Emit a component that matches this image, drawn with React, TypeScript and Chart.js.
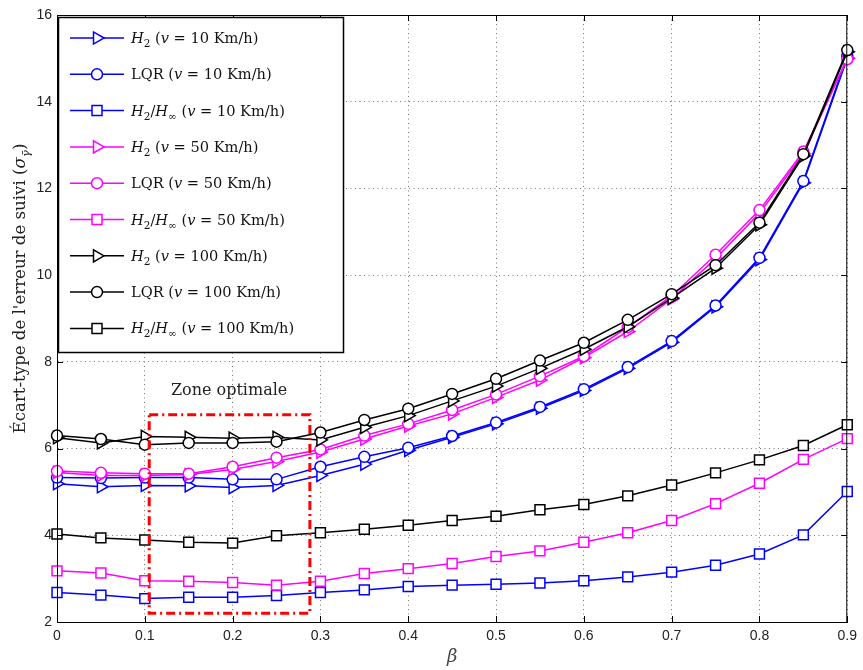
import { useEffect, useRef } from "react";
import { Chart, registerables } from "chart.js";
Chart.register(...registerables);

// ---------- data ----------
const beta = [0, 0.05, 0.1, 0.15, 0.2, 0.25, 0.3, 0.35, 0.4, 0.45, 0.5, 0.55, 0.6, 0.65, 0.7, 0.75, 0.8, 0.85, 0.9];

const h2_10 = [5.19, 5.12, 5.15, 5.14, 5.10, 5.15, 5.38, 5.64, 5.96, 6.26, 6.57, 6.93, 7.34, 7.85, 8.45, 9.27, 10.36, 12.13, 15.0];
const lqr_10 = [5.33, 5.32, 5.33, 5.33, 5.29, 5.29, 5.58, 5.81, 6.02, 6.29, 6.60, 6.96, 7.37, 7.88, 8.48, 9.30, 10.40, 12.17, 15.05];
const mix_10 = [2.68, 2.62, 2.54, 2.57, 2.57, 2.61, 2.68, 2.74, 2.82, 2.85, 2.87, 2.90, 2.95, 3.04, 3.15, 3.31, 3.57, 4.01, 5.01];

const h2_50 = [5.45, 5.38, 5.38, 5.40, 5.52, 5.70, 5.92, 6.22, 6.52, 6.80, 7.18, 7.58, 8.10, 8.70, 9.45, 10.38, 11.43, 12.80, 15.0];
const lqr_50 = [5.48, 5.44, 5.42, 5.42, 5.58, 5.79, 5.98, 6.30, 6.57, 6.89, 7.25, 7.67, 8.13, 8.80, 9.52, 10.47, 11.50, 12.85, 14.98];
const mix_50 = [3.18, 3.13, 2.95, 2.94, 2.91, 2.85, 2.94, 3.12, 3.23, 3.35, 3.51, 3.64, 3.84, 4.06, 4.34, 4.73, 5.20, 5.75, 6.23];

const h2_100 = [6.25, 6.13, 6.28, 6.26, 6.24, 6.26, 6.20, 6.49, 6.76, 7.10, 7.44, 7.85, 8.29, 8.81, 9.47, 10.16, 11.16, 12.75, 15.15];
const lqr_100 = [6.30, 6.22, 6.09, 6.13, 6.13, 6.16, 6.37, 6.66, 6.92, 7.26, 7.61, 8.03, 8.44, 8.97, 9.56, 10.23, 11.21, 12.79, 15.19];
const mix_100 = [4.03, 3.94, 3.89, 3.84, 3.82, 3.99, 4.06, 4.14, 4.23, 4.34, 4.44, 4.59, 4.71, 4.91, 5.16, 5.44, 5.74, 6.07, 6.55];

const xTicks = [0, 0.1, 0.2, 0.3, 0.4, 0.5, 0.6, 0.7, 0.8, 0.9];
const xTickLabels = ["0", "0.1", "0.2", "0.3", "0.4", "0.5", "0.6", "0.7", "0.8", "0.9"];
const yTicks = [2, 4, 6, 8, 10, 12, 14, 16];
const yTickLabels = ["2", "4", "6", "8", "10", "12", "14", "16"];

const speeds = ["10", "50", "100"];
const colors = ["#0000ff", "#ff00ff", "#000000"];
const methods = ["H2", "LQR", "H2Hinf"];
const zoneX = [0.105, 0.288];
const zoneY = [2.2, 6.78];
const zoneLabel = "Zone optimale";
const zoneLabelPos = [0.196, 7.33];

const SERIF = "'DejaVu Serif', serif";
const SANS = "'Liberation Sans', Arial, sans-serif";

type Seg = { t: string; it?: boolean; sub?: boolean };

function richWidth(ctx: CanvasRenderingContext2D, segs: Seg[], size: number) {
  let w = 0;
  for (const s of segs) {
    const fs = s.sub ? size * 0.72 : size;
    ctx.font = `${s.it ? "italic " : ""}${fs}px ${SERIF}`;
    w += ctx.measureText(s.t).width;
  }
  return w;
}
function drawRich(ctx: CanvasRenderingContext2D, segs: Seg[], x: number, y: number, size: number) {
  let cx = x;
  ctx.textBaseline = "alphabetic";
  ctx.textAlign = "left";
  for (const s of segs) {
    const fs = s.sub ? size * 0.72 : size;
    ctx.font = `${s.it ? "italic " : ""}${fs}px ${SERIF}`;
    ctx.fillText(s.t, cx, y + (s.sub ? size * 0.28 : 0));
    cx += ctx.measureText(s.t).width;
  }
}

function methodSegs(m: string, v: string): Seg[] {
  const tail: Seg[] = [{ t: " (" }, { t: "v", it: true }, { t: ` = ${v} Km/h)` }];
  if (m === "H2") return [{ t: "H", it: true }, { t: "2", sub: true }, ...tail];
  if (m === "LQR") return [{ t: "LQR" }, ...tail];
  return [{ t: "H", it: true }, { t: "2", sub: true }, { t: "/" }, { t: "H", it: true }, { t: "∞", sub: true }, ...tail];
}

function drawMarker(ctx: CanvasRenderingContext2D, m: string, x: number, y: number) {
  ctx.beginPath();
  if (m === "H2") {
    const r = 7;
    ctx.moveTo(x + r, y);
    ctx.lineTo(x - r / 2, y - r * 0.866);
    ctx.lineTo(x - r / 2, y + r * 0.866);
    ctx.closePath();
  } else if (m === "LQR") {
    ctx.arc(x, y, 5.5, 0, Math.PI * 2);
  } else {
    ctx.rect(x - 5, y - 5, 10, 10);
  }
  ctx.fillStyle = "#fff";
  ctx.fill();
  ctx.stroke();
}

const overlay = {
  id: "overlay",
  afterDatasetsDraw(chart: any) {
    const { ctx, chartArea: a, scales } = chart;
    const x = scales.x, y = scales.y;
    ctx.save();
    // zone
    ctx.strokeStyle = "#ff0000";
    ctx.lineWidth = 3;
    ctx.setLineDash([9, 4, 2, 4]);
    const zx0 = x.getPixelForValue(zoneX[0]), zx1 = x.getPixelForValue(zoneX[1]);
    const zy0 = y.getPixelForValue(zoneY[1]), zy1 = y.getPixelForValue(zoneY[0]);
    ctx.strokeRect(zx0, zy0, zx1 - zx0, zy1 - zy0);
    ctx.setLineDash([]);
    // zone label
    ctx.fillStyle = "#222";
    ctx.font = `16px ${SERIF}`;
    ctx.textAlign = "center";
    ctx.textBaseline = "middle";
    ctx.fillText(zoneLabel, x.getPixelForValue(zoneLabelPos[0]), y.getPixelForValue(zoneLabelPos[1]));
    // box
    ctx.strokeStyle = "#000";
    ctx.lineWidth = 1;
    ctx.strokeRect(a.left + 0.5, a.top + 0.5, a.right - a.left - 1, a.bottom - a.top);
    // inward ticks
    ctx.beginPath();
    for (const t of xTicks) {
      const px = Math.round(x.getPixelForValue(t)) + 0.5;
      ctx.moveTo(px, a.bottom); ctx.lineTo(px, a.bottom - 6);
      ctx.moveTo(px, a.top); ctx.lineTo(px, a.top + 6);
    }
    for (const t of yTicks) {
      const py = Math.round(y.getPixelForValue(t)) + 0.5;
      ctx.moveTo(a.left, py); ctx.lineTo(a.left + 6, py);
      ctx.moveTo(a.right, py); ctx.lineTo(a.right - 6, py);
    }
    ctx.stroke();
    ctx.restore();
  },
  afterDraw(chart: any) {
    const { ctx, chartArea: a } = chart;
    ctx.save();
    // legend
    const lx = a.left + 1, ly = a.top + 2, lw = 285, lh = 335;
    ctx.fillStyle = "#fff";
    ctx.fillRect(lx, ly, lw, lh);
    ctx.strokeStyle = "#000";
    ctx.lineWidth = 1.5;
    ctx.strokeRect(lx + 0.5, ly + 0.5, lw, lh);
    let i = 0;
    for (let s = 0; s < speeds.length; s++) {
      for (let m = 0; m < methods.length; m++) {
        const cy = ly + 21 + i * 36.3;
        ctx.strokeStyle = colors[s];
        ctx.lineWidth = 1.5;
        ctx.beginPath();
        ctx.moveTo(lx + 12, cy);
        ctx.lineTo(lx + 66, cy);
        ctx.stroke();
        drawMarker(ctx, methods[m], lx + 39, cy);
        ctx.fillStyle = "#111";
        drawRich(ctx, methodSegs(methods[m], speeds[s]), lx + 73, cy + 5, 14.6);
        i++;
      }
    }
    // y title
    const tsegs: Seg[] = [{ t: "Écart-type de l'erreur de suivi (" }, { t: "σ", it: true }, { t: "γ̄", it: true, sub: true }, { t: ")" }];
    const size = 16.6;
    const w = richWidth(ctx, tsegs, size);
    ctx.translate(25, (a.top + a.bottom) / 2 - 30);
    ctx.rotate(-Math.PI / 2);
    ctx.fillStyle = "#222";
    drawRich(ctx, tsegs, -w / 2, 0, size);
    ctx.restore();
  },
};

function makeDatasets() {
  const all = [
    [h2_10, lqr_10, mix_10],
    [h2_50, lqr_50, mix_50],
    [h2_100, lqr_100, mix_100],
  ];
  const ds: any[] = [];
  for (let s = 0; s < 3; s++) {
    for (let m = 0; m < 3; m++) {
      const vals = all[s][m];
      const style = methods[m] === "H2" ? "triangle" : methods[m] === "LQR" ? "circle" : "rect";
      ds.push({
        label: `${methods[m]} ${speeds[s]}`,
        data: beta.map((b, k) => ({ x: b, y: vals[k] })),
        borderColor: colors[s],
        backgroundColor: "#ffffff",
        pointBackgroundColor: "#ffffff",
        pointBorderColor: colors[s],
        borderWidth: 1.5,
        pointBorderWidth: 1.5,
        pointStyle: style,
        pointRotation: style === "triangle" ? 90 : 0,
        pointRadius: style === "triangle" ? 7 : style === "circle" ? 5.5 : 7,
        tension: 0,
        clip: false,
        order: 10 - s * 3 - m,
      });
    }
  }
  return ds;
}

export default function App() {
  const ref = useRef<HTMLCanvasElement>(null);
  useEffect(() => {
    if (!ref.current) return;
    const chart = new Chart(ref.current, {
      type: "line",
      data: { datasets: makeDatasets() },
      options: {
        animation: false,
        responsive: false,
        devicePixelRatio: 1,
        layout: { padding: { top: 15, right: 10, left: 0, bottom: 0 } },
        plugins: { legend: { display: false }, tooltip: { enabled: false } },
        scales: {
          x: {
            type: "linear",
            min: 0,
            max: 0.9,
            afterBuildTicks: (sc: any) => { sc.ticks = xTicks.map((v) => ({ value: v })); },
            afterFit: (sc: any) => { sc.height = 48; },
            ticks: {
              autoSkip: false,
              maxRotation: 0,
              padding: 6,
              color: "#222",
              font: { family: SANS, size: 14 },
              callback: (v: any) => xTickLabels[xTicks.findIndex((t) => Math.abs(t - v) < 1e-6)] ?? "",
            },
            grid: { color: "#777", lineWidth: 1, drawTicks: false },
            border: { display: true, color: "#000", width: 1, dash: [1, 3.5] },
            title: { display: true, text: "β", color: "#444", font: { family: SERIF, style: "italic", size: 18 }, padding: { top: 0, bottom: 2 } },
          },
          y: {
            type: "linear",
            min: 2,
            max: 16,
            afterBuildTicks: (sc: any) => { sc.ticks = yTicks.map((v) => ({ value: v })); },
            afterFit: (sc: any) => { sc.width = 57; },
            ticks: {
              autoSkip: false,
              padding: 5,
              color: "#222",
              font: { family: SANS, size: 14 },
              callback: (v: any) => yTickLabels[yTicks.indexOf(v)] ?? "",
            },
            grid: { color: "#777", lineWidth: 1, drawTicks: false },
            border: { display: true, color: "#000", width: 1, dash: [1, 3.5] },
          },
        },
      },
      plugins: [overlay],
    });
    return () => chart.destroy();
  }, []);
  return (
    <div style={{ position: "fixed", left: 0, top: 0, width: 863, height: 670, background: "#fff" }}>
      <canvas ref={ref} width={863} height={670} />
    </div>
  );
}
